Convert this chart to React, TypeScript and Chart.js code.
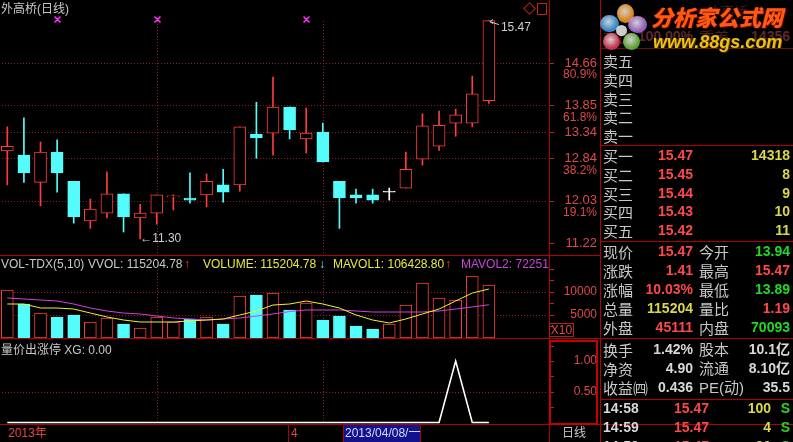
import React, { useEffect, useRef } from 'react';
import { Chart, registerables } from 'chart.js';

Chart.register(...registerables);

// ---------------- data ----------------
const dates = ['2013-03-07','2013-03-08','2013-03-11','2013-03-12','2013-03-13','2013-03-14','2013-03-15','2013-03-18','2013-03-19','2013-03-20','2013-03-21','2013-03-22','2013-03-25','2013-03-26','2013-03-27','2013-03-28','2013-03-29','2013-04-01','2013-04-02','2013-04-03','2013-04-08','2013-04-09','2013-04-10','2013-04-11','2013-04-12','2013-04-15','2013-04-16','2013-04-17','2013-04-18','2013-04-19'];
const emptySlots = ['', '', ''];
const openP = [12.98,12.90,12.38,12.96,12.40,11.64,11.79,12.16,11.70,11.79,12.10,12.08,12.14,12.33,12.33,13.30,13.32,13.82,13.21,13.34,12.40,12.14,12.14,12.19,12.27,12.82,13.07,13.51,13.51,13.94];
const highP = [13.44,13.61,13.15,13.19,12.40,12.06,12.58,12.16,11.96,12.14,12.14,12.56,12.54,12.63,13.44,13.91,14.39,13.82,13.80,13.51,12.40,12.25,12.25,12.27,12.96,13.69,13.74,13.78,14.41,15.47];
const lowP = [12.33,12.38,11.93,12.19,11.60,11.50,11.70,11.43,11.30,11.58,11.85,11.98,11.91,12.00,12.21,12.84,12.90,13.21,12.94,12.77,11.50,11.98,11.98,12.04,12.27,12.71,12.99,13.26,13.44,13.89];
const closeP = [13.07,12.56,12.96,12.56,11.72,11.87,12.16,11.72,11.79,12.14,12.12,12.04,12.40,12.19,13.44,13.23,13.82,13.38,13.32,12.77,12.08,12.08,12.04,12.19,12.63,13.46,13.47,13.67,14.07,15.47];
// volume in X10 units
const volume = [10430,7390,5430,4570,5000,3480,4350,3040,2170,4570,3480,4130,4570,3040,9130,9350,9780,6090,7610,3910,4780,2610,1960,3040,7170,11960,8700,8260,13480,11520];
const mavol1 = [7390,7390,6520,6520,6300,5430,4570,3910,3480,3480,3480,3700,3910,4130,5000,5870,7170,7390,8040,7390,6520,5000,3910,3260,4130,5220,6300,8040,9780,10643];
const mavol2 = [8700,8480,8260,8040,7390,6520,5870,5430,5220,4780,4350,4130,3910,4130,4350,4780,5220,5750,6090,6090,6090,5870,5650,5650,5650,5650,5870,6300,6740,7225];
const xgSignal = [0,0,0,0,0,0,0,0,0,0,0,0,0,0,0,0,0,0,0,0,0,0,0,0,0,0,0,1,0,0];

const priceTicks = [11.22, 12.03, 12.84, 13.34, 13.85, 14.66];
const priceTickPct = ['', '19.1%', '38.2%', '', '61.8%', '80.9%'];
const priceGridLevels = [12.03, 12.84, 13.34, 13.85, 14.66];
const volTicks = [5000, 10000];
const volTickMarks = [2500, 5000, 7500, 10000, 12500, 15000];
const xgTicks = [0.5, 1.0];
const xgTickMarks = [0.25, 0.5, 0.75, 1.0, 1.25];
const markerIdx = [3, 9, 18];
const vGridIdx = [9, 19];

const buyLabels = ['买一', '买二', '买三', '买四', '买五'];
const sellLabels = ['卖五', '卖四', '卖三', '卖二', '卖一'];
const buyPrices = ['15.47', '15.45', '15.44', '15.43', '15.42'];
const buyVols = ['14318', '8', '9', '10', '11'];

// ---------------- styles ----------------
const RED = '#ff3c3c';
const CYAN = '#54fcfc';
const WHITE = '#ffffff';
const GRID = '#8c2020';
const AXIS_TXT = '#dc4a4a';
const BORDER = '#b00000';
const TICKC = '#c02020';
const LBL = '#c8c8c8';
const VRED = '#ff4848';
const GREEN = '#22d822';
const YEL = '#d8d848';
const VWH = '#d8d8d8';
const FONT = '"Liberation Sans", Arial, "Noto Sans CJK SC", sans-serif';
const CJK = '"Noto Sans CJK SC", "Liberation Sans", sans-serif';

const labels = [...dates, ...emptySlots];
const kind = (i: number) => (closeP[i] > openP[i] ? 'up' : closeP[i] < openP[i] ? 'down' : 'flat');

function decoPlugin(cfg: any) {
  return {
    id: 'deco',
    beforeDatasetsDraw(chart: any) {
      const { ctx, chartArea: a, scales } = chart;
      const x = scales.x, y = scales.y;
      ctx.save();
      ctx.strokeStyle = GRID;
      ctx.lineWidth = 1;
      ctx.setLineDash([1, 2]);
      ctx.beginPath();
      for (const v of cfg.hLevels) {
        const py = Math.round(y.getPixelForValue(v)) + 0.5;
        ctx.moveTo(a.left, py);
        ctx.lineTo(a.right, py);
      }
      const top = cfg.vTopValue !== undefined ? y.getPixelForValue(cfg.vTopValue) : a.top + (cfg.vTopOffset || 0);
      for (const i of cfg.vIdx) {
        const px = Math.round(x.getPixelForValue(i)) + 0.5;
        ctx.moveTo(px, top);
        ctx.lineTo(px, a.bottom);
      }
      ctx.stroke();
      ctx.setLineDash([]);
      ctx.strokeStyle = TICKC;
      ctx.beginPath();
      for (const v of cfg.tickMarks) {
        const py = Math.round(y.getPixelForValue(v)) + 0.5;
        ctx.moveTo(y.left + 2, py);
        ctx.lineTo(y.left + 7, py);
      }
      ctx.stroke();
      ctx.restore();
    },
    afterDatasetsDraw(chart: any) {
      if (cfg.extra) cfg.extra(chart);
    },
  };
}

function yAxis(min: number, max: number, ticks: number[], fmt: (v: number) => string, size: number) {
  return {
    position: 'right',
    min,
    max,
    afterFit: (s: any) => {
      s.width = 50;
      s.paddingTop = 0;
      s.paddingBottom = 0;
    },
    afterBuildTicks: (s: any) => {
      s.ticks = ticks.map((v) => ({ value: v }));
    },
    ticks: {
      color: AXIS_TXT,
      font: { family: FONT, size },
      crossAlign: 'far',
      padding: 0,
      autoSkip: false,
      callback: (v: any) => fmt(Number(v)),
    },
    grid: { display: false },
    border: { display: false },
  };
}

const baseOpts = {
  responsive: false,
  animation: false,
  devicePixelRatio: 1,
  events: [],
  layout: { padding: 0 },
  plugins: { legend: { display: false }, tooltip: { enabled: false } },
};

function makePrice(canvas: HTMLCanvasElement) {
  const bodies = openP.map((o, i) => [Math.min(o, closeP[i]), Math.max(o, closeP[i])]);
  const wicks = lowP.map((l, i) => [l, highP[i]]);
  const stroke = openP.map((_, i) => (kind(i) === 'up' ? RED : kind(i) === 'down' ? CYAN : WHITE));
  const fill = openP.map((_, i) => (kind(i) === 'up' ? '#000000' : kind(i) === 'down' ? CYAN : WHITE));
  const extra = (chart: any) => {
    const { ctx, scales } = chart;
    const x = scales.x, y = scales.y;
    ctx.save();
    // percentage labels on the axis
    ctx.fillStyle = AXIS_TXT;
    ctx.font = `12px ${FONT}`;
    ctx.textAlign = 'right';
    ctx.textBaseline = 'middle';
    priceTicks.forEach((v, i) => {
      if (priceTickPct[i]) ctx.fillText(priceTickPct[i], y.right, y.getPixelForValue(v) + 12);
    });
    // information markers
    ctx.strokeStyle = '#ff30ff';
    ctx.lineWidth = 1.5;
    ctx.beginPath();
    for (const i of markerIdx) {
      const px = Math.round(x.getPixelForValue(i)) + 0.5;
      const py = 19.5;
      ctx.moveTo(px - 3, py - 3);
      ctx.lineTo(px + 3, py + 3);
      ctx.moveTo(px + 3, py - 3);
      ctx.lineTo(px - 3, py + 3);
    }
    ctx.stroke();
    ctx.lineWidth = 1;
    // high / low annotations
    let hi = 0, lo = 0;
    highP.forEach((v, i) => { if (v > highP[hi]) hi = i; });
    lowP.forEach((v, i) => { if (v < lowP[lo]) lo = i; });
    ctx.fillStyle = '#d0d0d0';
    ctx.strokeStyle = '#d0d0d0';
    ctx.textAlign = 'left';
    const hx = x.getPixelForValue(hi), hy = y.getPixelForValue(highP[hi]);
    ctx.beginPath();
    ctx.moveTo(hx + 1, hy + 1);
    ctx.lineTo(hx + 4, hy - 1);
    ctx.moveTo(hx + 1, hy + 1);
    ctx.lineTo(hx + 4, hy + 3);
    ctx.moveTo(hx + 1, hy + 1);
    ctx.lineTo(hx + 10, hy + 4);
    ctx.stroke();
    ctx.fillText(highP[hi].toFixed(2), hx + 12, hy + 7);
    const lx = x.getPixelForValue(lo), ly = y.getPixelForValue(lowP[lo]);
    ctx.fillText('←' + lowP[lo].toFixed(2), lx, ly);
    ctx.restore();
  };
  return new Chart(canvas, {
    type: 'bar',
    data: {
      labels,
      datasets: [
        { label: 'body', data: bodies, backgroundColor: fill, borderColor: stroke, borderWidth: 1, borderSkipped: false, barThickness: 12, minBarLength: 1, grouped: false, order: 0 },
        { label: 'wick', data: wicks, backgroundColor: stroke, borderWidth: 0, barThickness: 1, grouped: false, order: 1 },
      ],
    },
    options: {
      ...baseOpts,
      scales: {
        x: { display: false, offset: true },
        y: yAxis(10.991, 15.864, priceTicks, (v) => v.toFixed(2), 13),
      },
    },
    plugins: [decoPlugin({ hLevels: priceGridLevels, vIdx: vGridIdx, vTopOffset: 21, tickMarks: priceTicks, extra })],
  } as any);
}

function makeVol(canvas: HTMLCanvasElement) {
  const stroke = volume.map((_, i) => (closeP[i] >= openP[i] ? RED : CYAN));
  const fill = volume.map((_, i) => (closeP[i] >= openP[i] ? '#000000' : CYAN));
  return new Chart(canvas, {
    type: 'bar',
    data: {
      labels,
      datasets: [
        { type: 'line', label: 'MAVOL1', data: mavol1, borderColor: '#f0f030', borderWidth: 1, pointRadius: 0, tension: 0, order: 0 },
        { type: 'line', label: 'MAVOL2', data: mavol2, borderColor: '#d040e0', borderWidth: 1, pointRadius: 0, tension: 0, order: 0 },
        { label: 'VOL', data: volume, backgroundColor: fill, borderColor: stroke, borderWidth: 1, borderSkipped: false, barThickness: 12, order: 1 },
      ],
    },
    options: {
      ...baseOpts,
      scales: {
        x: { display: false, offset: true },
        y: yAxis(0, 17826, volTicks, (v) => String(Math.round(v)), 12),
      },
    },
    plugins: [decoPlugin({ hLevels: volTicks, vIdx: vGridIdx, vTopOffset: 14, tickMarks: volTickMarks })],
  } as any);
}

function makeXg(canvas: HTMLCanvasElement) {
  return new Chart(canvas, {
    type: 'line',
    data: {
      labels,
      datasets: [{ label: 'XG', data: xgSignal, borderColor: '#ffffff', borderWidth: 1.6, pointRadius: 0, tension: 0 }],
    },
    options: {
      ...baseOpts,
      scales: {
        x: { display: false, offset: true },
        y: yAxis(-0.024, 1.325, xgTicks, (v) => v.toFixed(2), 12),
      },
    },
    plugins: [decoPlugin({ hLevels: [0.5], vIdx: vGridIdx, vTopValue: 1.0, tickMarks: xgTickMarks })],
  } as any);
}

// ---------------- helpers ----------------
const T = ({ x, y, c = LBL, s = 12, b = false, r = false, f = FONT, children, style }: any) => (
  <div
    style={{
      position: 'absolute',
      top: y,
      transform: 'translateY(-50%)',
      ...(r ? { right: 793 - x } : { left: x }),
      color: c,
      fontSize: s,
      fontWeight: b ? 700 : 400,
      fontFamily: f,
      lineHeight: 1,
      whiteSpace: 'nowrap',
      ...style,
    }}
  >
    {children}
  </div>
);
const HL = ({ x1, x2, y, c = BORDER, w = 1 }: any) => (
  <div style={{ position: 'absolute', left: x1, top: y, width: x2 - x1, height: w, background: c }} />
);
const VL = ({ x, y1, y2, c = BORDER, w = 1 }: any) => (
  <div style={{ position: 'absolute', left: x, top: y1, width: w, height: y2 - y1, background: c }} />
);
const Petal = ({ cx, cy, w, h, c }: any) => (
  <div
    style={{
      position: 'absolute',
      left: cx - w / 2,
      top: cy - h / 2,
      width: w,
      height: h,
      borderRadius: '50%',
      background: `radial-gradient(circle at 45% 40%, #f4f4f4 0%, ${c} 60%, ${c} 100%)`,
      opacity: 0.85,
    }}
  />
);

const quoteRows = [
  ['现价', '15.47', VRED, '今开', '13.94', GREEN],
  ['涨跌', '1.41', VRED, '最高', '15.47', VRED],
  ['涨幅', '10.03%', VRED, '最低', '13.89', GREEN],
  ['总量', '115204', YEL, '量比', '1.19', VRED],
  ['外盘', '45111', VRED, '内盘', '70093', GREEN],
];
const quoteY = [251, 270, 289, 308, 327];
const statRows = [
  ['换手', '1.42%', '股本', '10.1亿'],
  ['净资', '4.90', '流通', '8.10亿'],
  ['收益㈣', '0.436', 'PE(动)', '35.5'],
];
const statY = [349, 368, 387];
const tradeRows = [
  ['14:58', '15.47', '100', 'S'],
  ['14:59', '15.47', '4', 'S'],
  ['14:59', '15.47', '90', 'S'],
];
const tradeY = [408, 427, 446];

export default function App() {
  const pRef = useRef<HTMLCanvasElement>(null);
  const vRef = useRef<HTMLCanvasElement>(null);
  const xRef = useRef<HTMLCanvasElement>(null);

  useEffect(() => {
    document.body.style.margin = '0';
    document.body.style.background = '#000';
    const charts = [makePrice(pRef.current!), makeVol(vRef.current!), makeXg(xRef.current!)];
    return () => charts.forEach((c) => c.destroy());
  }, []);

  return (
    <div style={{ position: 'fixed', left: 0, top: 0, width: 793, height: 442, background: '#000', overflow: 'hidden', fontFamily: FONT }}>
      <canvas ref={pRef} width={598} height={255} style={{ position: 'absolute', left: -1, top: 0 }} />
      <canvas ref={vRef} width={598} height={82} style={{ position: 'absolute', left: -1, top: 256 }} />
      <canvas ref={xRef} width={598} height={83} style={{ position: 'absolute', left: -1, top: 341 }} />

      {/* panel borders */}
      <VL x={549} y1={0} y2={442} />
      <VL x={600} y1={0} y2={442} />
      <HL x1={0} x2={600} y={255} />
      <HL x1={0} x2={600} y={338} />
      <HL x1={0} x2={793} y={424} />
      <div style={{ position: 'absolute', left: 549, top: 340, width: 49, height: 85, border: '2px solid #c80000', boxSizing: 'border-box' }} />

      {/* price panel texts */}
      <T x={1} y={9} c={LBL} s={12}>外高桥(日线)</T>
      <div style={{ position: 'absolute', left: 525, top: 4, width: 7, height: 7, border: '1px solid #c02020', transform: 'rotate(45deg)' }} />
      <div style={{ position: 'absolute', left: 537, top: 3, width: 8, height: 10, border: '1px solid #c02020' }} />

      {/* volume header */}
      <T x={1} y={264} c={LBL}>VOL-TDX(5,10)</T>
      <T x={88} y={264} c={LBL}>VVOL: 115204.78</T>
      <T x={184} y={264} c={RED}>↑</T>
      <T x={203} y={264} c="#e8e840">VOLUME: 115204.78</T>
      <T x={319} y={264} c={CYAN}>↓</T>
      <T x={333} y={264} c="#e8e840">MAVOL1: 106428.80</T>
      <T x={445} y={264} c={RED}>↑</T>
      <T x={461} y={264} c="#cc44dd">MAVOL2: 72251</T>
      <div style={{ position: 'absolute', left: 549, top: 323, width: 25, height: 14, border: '1px solid #b02020', boxSizing: 'border-box', color: AXIS_TXT, fontSize: 12, lineHeight: '12px', textAlign: 'center', fontFamily: FONT }}>X10</div>

      {/* XG header */}
      <T x={1} y={350} c={LBL}>量价出涨停 XG: 0.00</T>

      {/* bottom bar */}
      <T x={8} y={433} c={AXIS_TXT}>2013年</T>
      <VL x={288} y1={424} y2={442} />
      <T x={291} y={433} c={AXIS_TXT}>4</T>
      <div style={{ position: 'absolute', left: 343, top: 425, width: 78, height: 17, background: '#12128c', borderLeft: '1px solid #b00000', borderRight: '1px solid #b00000', boxSizing: 'border-box' }} />
      <T x={345} y={433} c="#d8d8ff">2013/04/08/一</T>
      <T x={562} y={433} c={LBL}>日线</T>

      {/* info panel */}
      <T x={706} y={11} c="#3a1a1a" s={14} f={CJK}>外高桥</T>
      <T x={603} y={36} c="#4a2222" s={15} f={CJK}>委比</T>
      <T x={693} y={36} r c="#5a2a2a" s={14} b>100.00%</T>
      <T x={699} y={36} c="#4a2222" s={15} f={CJK}>委差</T>
      <T x={790} y={36} r c="#5a2a2a" s={14} b>14356</T>
      <HL x1={600} x2={793} y={48} c="#6a1010" />

      {/* logo */}
      <Petal cx={625} cy={13} w={17} h={19} c="#ff9a1a" />
      <Petal cx={609} cy={23} w={19} h={17} c="#3aa0f0" />
      <Petal cx={637} cy={24} w={19} h={17} c="#b070e0" />
      <Petal cx={631} cy={41} w={17} h={17} c="#6cc040" />
      <Petal cx={611} cy={41} w={17} h={17} c="#e83c5a" />
      <div style={{ position: 'absolute', left: 616, top: 25, width: 11, height: 11, borderRadius: '50%', background: '#ffffff', opacity: 0.8 }} />
      <div style={{ position: 'absolute', left: 651, top: 5, fontSize: 22, fontWeight: 900, fontStyle: 'italic', fontFamily: CJK, lineHeight: 1, color: '#ff5a10', textShadow: '1px 1px 0 #5a0800, -1px 0 0 #5a0800', whiteSpace: 'nowrap' }}>分析家公式网</div>
      <div style={{ position: 'absolute', left: 653, top: 33, fontSize: 18, fontWeight: 700, fontStyle: 'italic', fontFamily: FONT, lineHeight: 1, color: '#f0c010', textShadow: '1px 1px 0 #4a3000', whiteSpace: 'nowrap' }}>www.88gs.com</div>

      {sellLabels.map((l, i) => (
        <T key={l} x={603} y={60 + i * 18.8} s={15} f={CJK}>{l}</T>
      ))}
      <HL x1={600} x2={793} y={145} />
      {buyLabels.map((l, i) => (
        <React.Fragment key={l}>
          <T x={603} y={155 + i * 18.8} s={15} f={CJK}>{l}</T>
          <T x={693} y={155 + i * 18.8} r c={VRED} s={14} b>{buyPrices[i]}</T>
          <T x={790} y={155 + i * 18.8} r c={YEL} s={14} b>{buyVols[i]}</T>
        </React.Fragment>
      ))}
      <HL x1={600} x2={793} y={241} />
      {quoteRows.map((r, i) => (
        <React.Fragment key={r[0]}>
          <T x={603} y={quoteY[i]} s={15} f={CJK}>{r[0]}</T>
          <T x={693} y={quoteY[i]} r c={r[2]} s={14} b>{r[1]}</T>
          <T x={699} y={quoteY[i]} s={15} f={CJK}>{r[3]}</T>
          <T x={790} y={quoteY[i]} r c={r[5]} s={14} b>{r[4]}</T>
        </React.Fragment>
      ))}
      <HL x1={600} x2={793} y={338} />
      {statRows.map((r, i) => (
        <React.Fragment key={r[0]}>
          <T x={603} y={statY[i]} s={15} f={CJK}>{r[0]}</T>
          <T x={693} y={statY[i]} r c={VWH} s={14} b>{r[1]}</T>
          <T x={699} y={statY[i]} s={15} f={FONT}>{r[2]}</T>
          <T x={790} y={statY[i]} r c={VWH} s={14} b>{r[3]}</T>
        </React.Fragment>
      ))}
      <HL x1={600} x2={793} y={399} />
      {tradeRows.map((r, i) => (
        <React.Fragment key={i}>
          <T x={603} y={tradeY[i]} c={VWH} s={14} b>{r[0]}</T>
          <T x={709} y={tradeY[i]} r c={VRED} s={14} b>{r[1]}</T>
          <T x={771} y={tradeY[i]} r c={YEL} s={14} b>{r[2]}</T>
          <T x={790} y={tradeY[i]} r c={GREEN} s={14} b>{r[3]}</T>
        </React.Fragment>
      ))}
    </div>
  );
}
